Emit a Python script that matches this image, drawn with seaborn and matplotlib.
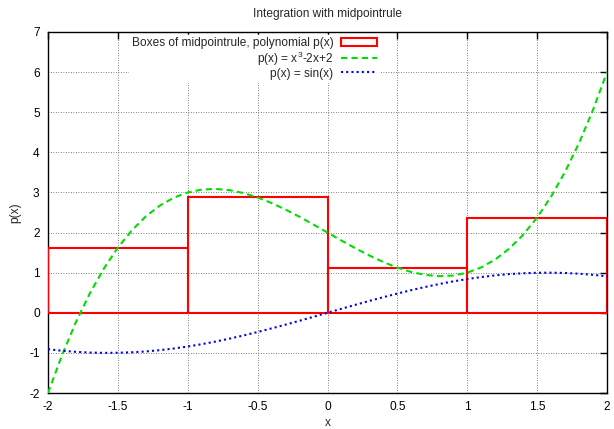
import matplotlib
matplotlib.use("Agg")
import matplotlib.pyplot as plt
import seaborn as sns
import pandas as pd
from matplotlib.patches import Rectangle

# ---- data ----
box_centers = [-1.5, -0.5, 0.5, 1.5]
box_heights = [1.625, 2.875, 1.125, 2.375]
box_width = 1.0

curve_x = [-2.0, -1.9, -1.8, -1.7, -1.6, -1.5, -1.4, -1.3, -1.2, -1.1, -1.0,
           -0.9, -0.8, -0.7, -0.6, -0.5, -0.4, -0.3, -0.2, -0.1, 0.0,
           0.1, 0.2, 0.3, 0.4, 0.5, 0.6, 0.7, 0.8, 0.9, 1.0,
           1.1, 1.2, 1.3, 1.4, 1.5, 1.6, 1.7, 1.8, 1.9, 2.0]
poly_y = [-2.0, -1.059, -0.232, 0.487, 1.104, 1.625, 2.056, 2.403, 2.672, 2.869, 3.0,
          3.071, 3.088, 3.057, 2.984, 2.875, 2.736, 2.573, 2.392, 2.199, 2.0,
          1.801, 1.608, 1.427, 1.264, 1.125, 1.016, 0.943, 0.912, 0.929, 1.0,
          1.131, 1.328, 1.597, 1.944, 2.375, 2.896, 3.513, 4.232, 5.059, 6.0]
sin_y = [-0.909, -0.946, -0.974, -0.992, -1.000, -0.997, -0.985, -0.964, -0.932, -0.891, -0.841,
         -0.783, -0.717, -0.644, -0.565, -0.479, -0.389, -0.296, -0.199, -0.100, 0.0,
         0.100, 0.199, 0.296, 0.389, 0.479, 0.565, 0.644, 0.717, 0.783, 0.841,
         0.891, 0.932, 0.964, 0.985, 0.997, 1.000, 0.992, 0.974, 0.946, 0.909]

x_ticks = [-2, -1.5, -1, -0.5, 0, 0.5, 1, 1.5, 2]
x_tick_labels = ["-2", "-1.5", "-1", "-0.5", "0", "0.5", "1", "1.5", "2"]
y_ticks = [-2, -1, 0, 1, 2, 3, 4, 5, 6, 7]
y_tick_labels = ["-2", "-1", "0", "1", "2", "3", "4", "5", "6", "7"]

labels = ["Boxes of midpointrule, polynomial p(x)", r"p(x) = x$^3$-2x+2", "p(x) = sin(x)"]

# ---- style ----
sns.set_theme(style="white")
plt.rcParams["font.family"] = ["Liberation Sans", "DejaVu Sans"]
plt.rcParams["mathtext.fontset"] = "custom"
plt.rcParams["mathtext.rm"] = "Liberation Sans"
plt.rcParams["mathtext.it"] = "Liberation Sans:italic"
plt.rcParams["axes.unicode_minus"] = False

FS = 8.6

fig = plt.figure(figsize=(6.14, 4.29), dpi=100)
ax = fig.add_axes([48/614, (429-393)/429, (607-48)/614, (393-32)/429])

df = pd.DataFrame({"x": curve_x, "poly": poly_y, "sin": sin_y})

ax.bar(box_centers, box_heights, width=box_width, fill=False,
       edgecolor="#ff0000", linewidth=1.5, zorder=3)
sns.lineplot(data=df, x="x", y="poly", ax=ax, color="#00dd00", linewidth=1.5,
             linestyle=(0, (3, 2)), zorder=4)
sns.lineplot(data=df, x="x", y="sin", ax=ax, color="#0000ee", linewidth=1.5,
             linestyle=(0, (1, 1.5)), zorder=4)

ax.set_xlim(-2, 2)
ax.set_ylim(-2, 7)
ax.set_xticks(x_ticks)
ax.set_xticklabels(x_tick_labels)
ax.set_yticks(y_ticks)
ax.set_yticklabels(y_tick_labels)
ax.tick_params(direction="in", length=5, width=1, top=True, right=True,
               labelsize=FS, colors="black", pad=6)
ax.grid(True, linestyle=(0, (1, 2)), color="#555555", linewidth=0.6)
for s in ax.spines.values():
    s.set_color("black")
    s.set_linewidth(1)

ax.set_xlabel("x", fontsize=FS, labelpad=3)
ax.set_ylabel("p(x)", fontsize=FS, labelpad=6)
ax.set_title("Integration with midpointrule", fontsize=FS, pad=11)

handles = [Rectangle((0, 0), 1, 1, fill=False, edgecolor="#ff0000", linewidth=1.5),
           ax.lines[0], ax.lines[1]]
leg = ax.legend(handles, labels, loc="upper right", bbox_to_anchor=(379/614, 1 - 35/429),
                bbox_transform=fig.transFigure, markerfirst=False, frameon=True,
                fontsize=FS, handlelength=3.0, handletextpad=0.6, labelspacing=0.0,
                borderpad=0.2, borderaxespad=0)
leg.get_frame().set_edgecolor("white")
leg.get_frame().set_facecolor("white")
leg.get_frame().set_alpha(1)

fig.savefig("out.png", dpi=100)
